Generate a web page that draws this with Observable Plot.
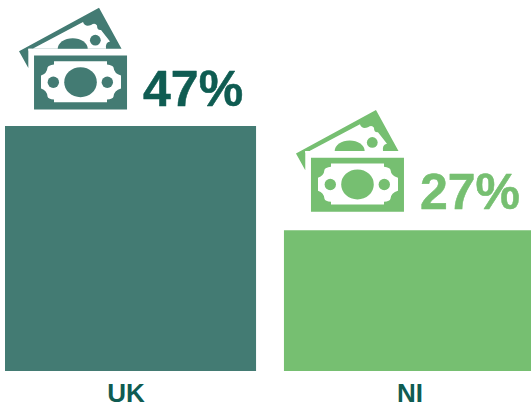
<!DOCTYPE html>
<html>
<head>
<meta charset="utf-8">
<script src="https://cdn.jsdelivr.net/npm/d3@7"></script>
<script src="https://cdn.jsdelivr.net/npm/@observablehq/plot@0.6"></script>
<style>html,body{margin:0;padding:0;background:#fff}svg{display:block}</style>
</head>
<body>
<div id="chart"></div>
<script>
const categories = ["UK", "NI"];
const values = [47, 27];
const labels = ["47%", "27%"];
const barColors = ["#437b73", "#76bf71"];
const labelColors = ["#0f5c52", "#76bf71"];
const axisColor = "#0f5c52";

// The banknote pictogram, tinted per category.
function note(c) {
  const svg = `<svg xmlns="http://www.w3.org/2000/svg" viewBox="17 5 112 108" width="112" height="108">
<path fill="${c}" d="M19 50.7 L99 7.3 L121.5 48.3 L28.3 48.3 L28.3 67.5 Z"/>
<path fill="#fff" d="M28.3 56 L28.3 50 Q31 52 33 48 L83 21.5 Q85 27 91 24.5 Q95 22 97 25 Q97 30 101 29.5 L110 41 Q105 42 106 48.3 L28.3 48.3 Z"/>
<path fill="${c}" d="M57.7 48.3 A15 10.6 0 0 1 87.7 48.3 Z"/>
<circle fill="${c}" cx="95.3" cy="39.7" r="5.4"/>
<rect fill="${c}" x="34" y="55" width="93" height="54"/>
<path fill="#fff" d="M54 60.7 L107 60.7 L107 64 Q113 65 113.5 67 Q114 73 121 75 L121 88 Q114 90 113.5 96 Q113 98.5 107 99 L107 101.7 L54 101.7 L54 99 Q48 98.5 47.5 96 Q47 90 41 88 L41 75 Q47 73 47.5 67 Q48 65 54 64 Z"/>
<ellipse fill="${c}" cx="80.5" cy="81.7" rx="16.3" ry="15"/>
<circle fill="${c}" cx="53.3" cy="81.8" r="5.7"/>
<circle fill="${c}" cx="107.3" cy="81.8" r="5.7"/>
</svg>`;
  return "data:image/svg+xml;utf8," + encodeURIComponent(svg);
}

const rows = categories.map((category, i) => ({
  category, value: values[i], label: labels[i], bar: barColors[i], text: labelColors[i]
}));

const iconOffsets = {UK: [-58, -67], NI: [-60, -69]};
const textOffsets = {UK: [12, -21], NI: [10, -22]};
const axisOffsets = {UK: -5, NI: 0};

const chart = Plot.plot({
  width: 531,
  height: 411,
  marginTop: 0, marginLeft: 0, marginRight: 0, marginBottom: 40,
  style: {fontFamily: "'Liberation Sans', Arial, sans-serif", background: "#fff"},
  x: {domain: categories, range: [5, 535], round: false, paddingInner: 0.1, paddingOuter: 0, align: 0, label: null},
  y: {domain: [0, 47], range: [371, 126], axis: null},
  marks: [
    Plot.barY(rows, {x: "category", y: "value", fill: d => d.bar}),
    ...rows.map(r => Plot.image([r], {
      x: "category", y: "value",
      src: d => note(d.bar),
      width: 112, height: 108,
      dx: iconOffsets[r.category][0],
      dy: iconOffsets[r.category][1]
    })),
    ...rows.map(r => Plot.text([r], {
      x: "category", y: "value", text: "label",
      fill: d => d.text,
      stroke: d => d.text, strokeWidth: 0.5,
      fontSize: 50, fontWeight: "bold",
      textAnchor: "start", lineAnchor: "bottom",
      dx: textOffsets[r.category][0],
      dy: textOffsets[r.category][1]
    })),
    ...categories.map(c => Plot.axisX({
      anchor: "bottom", ticks: [c], tickSize: 0, label: null,
      fontSize: 26, fontWeight: "bold", fill: axisColor,
      tickPadding: 12, dx: axisOffsets[c]
    }))
  ]
});
document.getElementById("chart").appendChild(chart);
</script>
</body>
</html>
